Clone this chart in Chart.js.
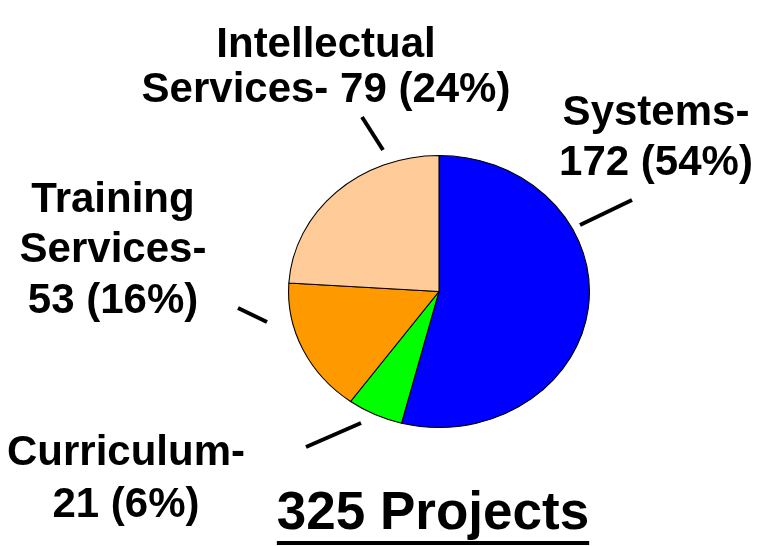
<!DOCTYPE html>
<html>
<head>
<meta charset="utf-8">
<script src="https://cdn.jsdelivr.net/npm/chart.js@4.4.1/dist/chart.umd.min.js"></script>
<style>
  html, body { margin: 0; padding: 0; background: #fff; }
  #wrap { width: 759px; height: 546px; position: relative; }
</style>
</head>
<body>
<div id="wrap"><canvas id="pie" width="759" height="546"></canvas></div>
<script>
// data, clockwise from 12 o'clock
const categories = ["Systems", "Curriculum", "Training Services", "Intellectual Services"];
const projects = [172, 21, 53, 79];
const percents = [54, 6, 16, 24]; // slices are sized by these
const sliceColors = ["#0000FF", "#00FF00", "#FF9900", "#FFCC99"];
const totalLabel = "325 Projects";

// label blocks: text lines, centre x, baselines, leader line
const labelBlocks = [
  { lines: ["Systems-", projects[0] + " (" + percents[0] + "%)"], x: 656, y: [125, 175], lead: [580, 225, 632, 200] },
  { lines: ["Curriculum-", projects[1] + " (" + percents[1] + "%)"], x: 126, y: [465, 517], lead: [306, 447, 361, 423] },
  { lines: ["Training", "Services-", projects[2] + " (" + percents[2] + "%)"], x: 113, y: [212, 262, 313], lead: [238, 308, 267, 322] },
  { lines: ["Intellectual", "Services- " + projects[3] + " (" + percents[3] + "%)"], x: 326, y: [57, 102], lead: [362, 117, 383, 150] }
];

const FONT = '"Liberation Sans", Arial, sans-serif';
const stretchX = 151 / 136.5; // pie is a little wider than tall

// squash the pie into an ellipse
const ellipsePlugin = {
  id: "ellipse",
  beforeDatasetsDraw(chart) {
    const arc = chart.getDatasetMeta(0).data[0];
    const ctx = chart.ctx;
    ctx.save();
    ctx.translate(arc.x, arc.y);
    ctx.scale(stretchX, 1);
    ctx.translate(-arc.x, -arc.y);
  },
  afterDatasetsDraw(chart) {
    chart.ctx.restore();
  }
};

// labels, leader lines and the total
const labelPlugin = {
  id: "labels",
  afterDraw(chart) {
    const ctx = chart.ctx;
    ctx.save();
    ctx.fillStyle = "#000";
    ctx.strokeStyle = "#000";
    ctx.textAlign = "center";
    ctx.textBaseline = "alphabetic";
    ctx.font = "bold 42px " + FONT;
    labelBlocks.forEach(b => {
      b.lines.forEach((t, i) => ctx.fillText(t, b.x, b.y[i]));
      ctx.lineWidth = 4;
      ctx.beginPath();
      ctx.moveTo(b.lead[0], b.lead[1]);
      ctx.lineTo(b.lead[2], b.lead[3]);
      ctx.stroke();
    });

    ctx.font = "bold 53px " + FONT;
    const tx = 433, ty = 529;
    ctx.fillText(totalLabel, tx, ty);
    const w = ctx.measureText(totalLabel).width;
    ctx.fillRect(tx - w / 2, 541, w, 4);
    ctx.restore();
  }
};

new Chart(document.getElementById("pie"), {
  type: "pie",
  data: {
    labels: categories,
    datasets: [{
      data: percents,
      backgroundColor: sliceColors,
      borderColor: "#000",
      borderWidth: 1
    }]
  },
  options: {
    responsive: false,
    animation: false,
    events: [],
    rotation: 0,
    layout: { padding: { left: 302, right: 183, top: 155, bottom: 118 } },
    plugins: { legend: { display: false }, tooltip: { enabled: false } }
  },
  plugins: [ellipsePlugin, labelPlugin]
});
</script>
</body>
</html>
